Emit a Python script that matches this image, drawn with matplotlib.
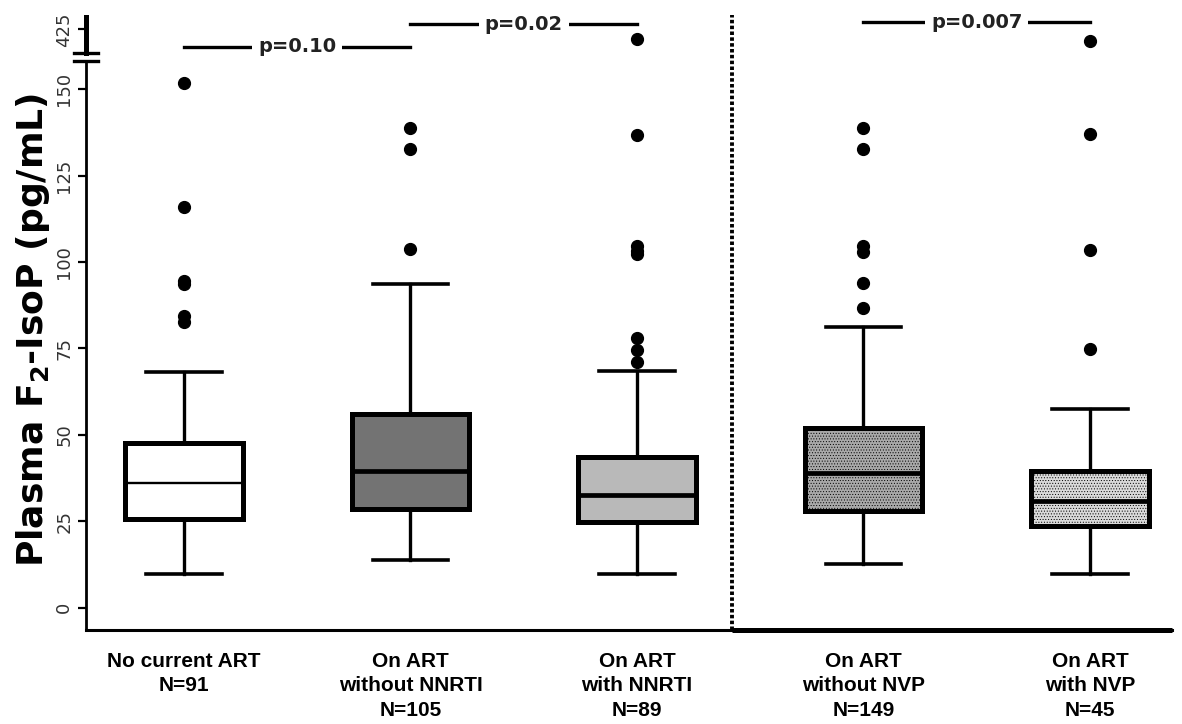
import matplotlib
matplotlib.use("Agg")
import matplotlib.pyplot as plt
import matplotlib.transforms as mtransforms

# groups and values
groups = ["No current ART\nN=91",
          "On ART\nwithout NNRTI\nN=105",
          "On ART\nwith NNRTI\nN=89",
          "On ART\nwithout NVP\nN=149",
          "On ART\nwith NVP\nN=45"]
medians = [36.1, 39.5, 32.6, 39.0, 30.8]
q1 = [25.7, 28.4, 24.8, 28.0, 23.6]
q3 = [47.6, 55.9, 43.6, 51.9, 39.6]
whis_lo = [9.6, 13.9, 9.6, 12.5, 9.6]
whis_hi = [68.1, 93.7, 68.5, 81.3, 57.4]
outliers = [
    [151.9, 116.0, 94.5, 93.6, 84.4, 82.7],
    [138.7, 132.7, 103.8],
    [422.1, 136.8, 104.6, 103.3, 102.2, 77.9, 74.5, 71.1],
    [138.7, 132.6, 104.6, 102.9, 93.8, 86.6],
    [421.6, 137.0, 103.5, 74.7],
]
face_colors = ["white", "#737373", "#b9b9b9", "#a9a9a9", "#dadada"]
hatches = [None, None, None, "......", "......"]

comparisons = [(1, 2, 419.96, "p=0.10"), (2, 3, 426.5, "p=0.02"), (4, 5, 427.1, "p=0.007")]

y_ticks = [0, 25, 50, 75, 100, 125, 150]
positions = [1, 2, 3, 4, 5]

plt.rcParams["hatch.linewidth"] = 0.4
plt.rcParams["hatch.color"] = "#555555"

fig = plt.figure(figsize=(11.82, 7.24), dpi=100)
ax = fig.add_axes([0.0725, 0.1298, 0.919, 0.786])
ax_top = fig.add_axes([0.0725, 0.9268, 0.919, 0.0497])

stats = []
for i in range(len(groups)):
    stats.append(dict(med=medians[i], q1=q1[i], q3=q3[i],
                      whislo=whis_lo[i], whishi=whis_hi[i],
                      fliers=outliers[i], label=groups[i]))

for a in (ax, ax_top):
    parts = a.bxp(stats, positions=positions, widths=0.52, capwidths=0.335,
                  patch_artist=True, showfliers=True,
                  boxprops=dict(linewidth=3.6, edgecolor="black"),
                  medianprops=dict(color="black", linewidth=3.4),
                  whiskerprops=dict(color="black", linewidth=2.4),
                  capprops=dict(color="black", linewidth=2.6),
                  flierprops=dict(marker="o", markerfacecolor="black",
                                  markeredgecolor="black", markersize=8.5))
    for box, fc, h in zip(parts["boxes"], face_colors, hatches):
        box.set_facecolor(fc)
        if h:
            box.set_hatch(h)
    parts["medians"][0].set_linewidth(1.7)
    a.set_xlim(0.566, 5.362)

# main axis
ax.set_ylim(-6.51, 158.2)
ax.set_yticks(y_ticks)
ax.spines["top"].set_visible(False)
ax.spines["right"].set_visible(False)
ax.spines["left"].set_linewidth(2.0)
ax.spines["bottom"].set_linewidth(2.2)
ax.tick_params(axis="y", direction="out", length=6, width=1.6, pad=3,
               labelsize=13, labelcolor="#333333", labelrotation=90)
for lab in ax.get_yticklabels():
    lab.set_va("center")
ax.set_xticks(positions)
ax.set_xticklabels(groups, fontsize=15, fontweight="bold", linespacing=1.35,
                   family=["Liberation Sans Narrow", "Liberation Sans"])
ax.tick_params(axis="x", length=0, pad=16)

# thicker baseline on the right-hand panel
trans = mtransforms.blended_transform_factory(ax.transData, ax.transAxes)
ax.plot([3.418, 5.362], [0, 0], color="black", linewidth=3.6,
        transform=trans, clip_on=False, solid_capstyle="butt")
# dotted separator
ax.plot([3.418, 3.418], [0, 1.081], color="black", linewidth=2.8,
        linestyle=(0, (0.9, 0.6)), transform=trans, clip_on=False)

# top (broken) axis
ax_top.set_ylim(418.14, 428.56)
ax_top.set_yticks([425])
ax_top.set_xticks([])
for s in ("top", "right", "bottom"):
    ax_top.spines[s].set_visible(False)
ax_top.spines["left"].set_linewidth(3.6)
ax_top.tick_params(axis="y", direction="out", length=6, width=1.6, pad=3,
                   labelsize=13, labelcolor="#333333", labelrotation=90)
for lab in ax_top.get_yticklabels():
    lab.set_va("center")
ax_top.patch.set_alpha(0)

# break marks
ax_top.plot([-0.011, 0.011], [0, 0], color="black", linewidth=2.4,
            transform=ax_top.transAxes, clip_on=False)
ax.plot([-0.011, 0.011], [1, 1], color="black", linewidth=2.4,
        transform=ax.transAxes, clip_on=False)

# p-value brackets
for x0, x1, y, txt in comparisons:
    ax_top.plot([x0, x1], [y, y], color="black", linewidth=2.4, clip_on=False)
    ax_top.text((x0 + x1) / 2, y, txt, ha="center", va="center",
                fontsize=14, fontweight="bold", color="#222222",
                bbox=dict(boxstyle="square,pad=0.3", fc="white", ec="none"))

fig.text(33 / 1182, 0.544, r"Plasma F$_\mathbf{2}$-IsoP (pg/mL)",
         rotation=90, ha="center", va="center", fontsize=26,
         fontweight="bold", family="DejaVu Sans")

fig.savefig("out.png", dpi=100, facecolor="white")
